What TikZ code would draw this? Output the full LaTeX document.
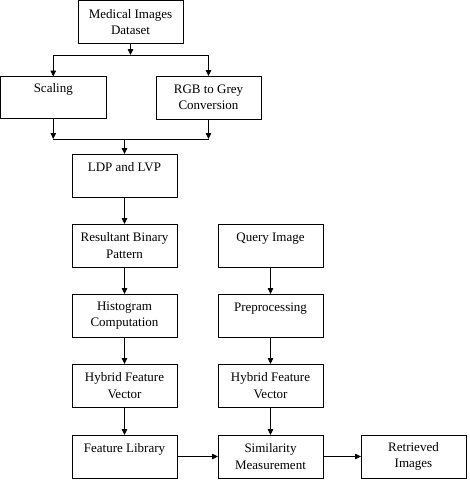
\documentclass[tikz,border=0pt]{standalone}
\usepackage{fontspec}
\setmainfont{Liberation Serif}
\usetikzlibrary{arrows.meta, positioning, calc}

\begin{document}
\begin{tikzpicture}[x=1pt, y=-1pt,
  node distance=27pt and 41pt,
  box/.style={draw, line width=0.8pt, outer sep=0pt, minimum width=105pt, minimum height=43pt,
    align=center, inner sep=0pt, font=\fontsize{13}{16.5}\selectfont},
  oneline/.style={box, text height=9pt, text depth=17pt},
  arr/.style={-{Triangle[length=6pt, width=5.5pt]}, line width=0.8pt},
  ln/.style={line width=0.8pt}]
\useasboundingbox (0,0) rectangle (470,480);
% database side
\node[box] (med) at (130.5,22) {Medical Images\\Dataset};
\node[oneline, minimum width=105.5pt, minimum height=42pt, text depth=20pt] (scal) at (53.25,97.5) {Scaling};
\node[box] (rgb) at (208.5,97.5) {RGB to Grey\\Conversion};
\node[oneline] (ldp) at (124.5,175.5) {LDP and LVP};
\node[box, below=of ldp] (rbp) {Resultant Binary\\Pattern};
\node[box, below=of rbp] (hist) {Histogram\\Computation};
\node[box, below=of hist] (hfvd) {Hybrid Feature\\Vector};
\node[oneline, below=28pt of hfvd] (flib) {Feature Library};
% query side
\node[oneline, right=of rbp] (qry) {Query Image};
\node[oneline, below=of qry] (prep) {Preprocessing};
\node[box, below=of prep] (hfvq) {Hybrid Feature\\Vector};
\node[box, below=28pt of hfvq] (sim) {Similarity\\Measurement};
\node[box, right=38pt of sim] (ret) {Retrieved\\Images};
% split and join
\coordinate (split) at (130.5,55);
\coordinate (join) at (124.5,139);
\draw[arr] (med) -- (split);
\draw[arr] (split) -| (scal);
\draw[arr] (split) -| (rgb);
\draw[arr] (scal.south) -- (scal.south |- join);
\draw[arr] (rgb.south) -- (rgb.south |- join);
\draw[ln] (scal.south |- join) -- (rgb.south |- join);
\draw[arr] (join) -- (ldp);
\draw[arr] (ldp) -- (rbp);
\draw[arr] (rbp) -- (hist);
\draw[arr] (hist) -- (hfvd);
\draw[arr] (hfvd) -- (flib);
\draw[arr] (qry) -- (prep);
\draw[arr] (prep) -- (hfvq);
\draw[arr] (hfvq) -- (sim);
\draw[arr] (flib) -- (sim);
\draw[arr] (sim) -- (ret);
\end{tikzpicture}
\end{document}
